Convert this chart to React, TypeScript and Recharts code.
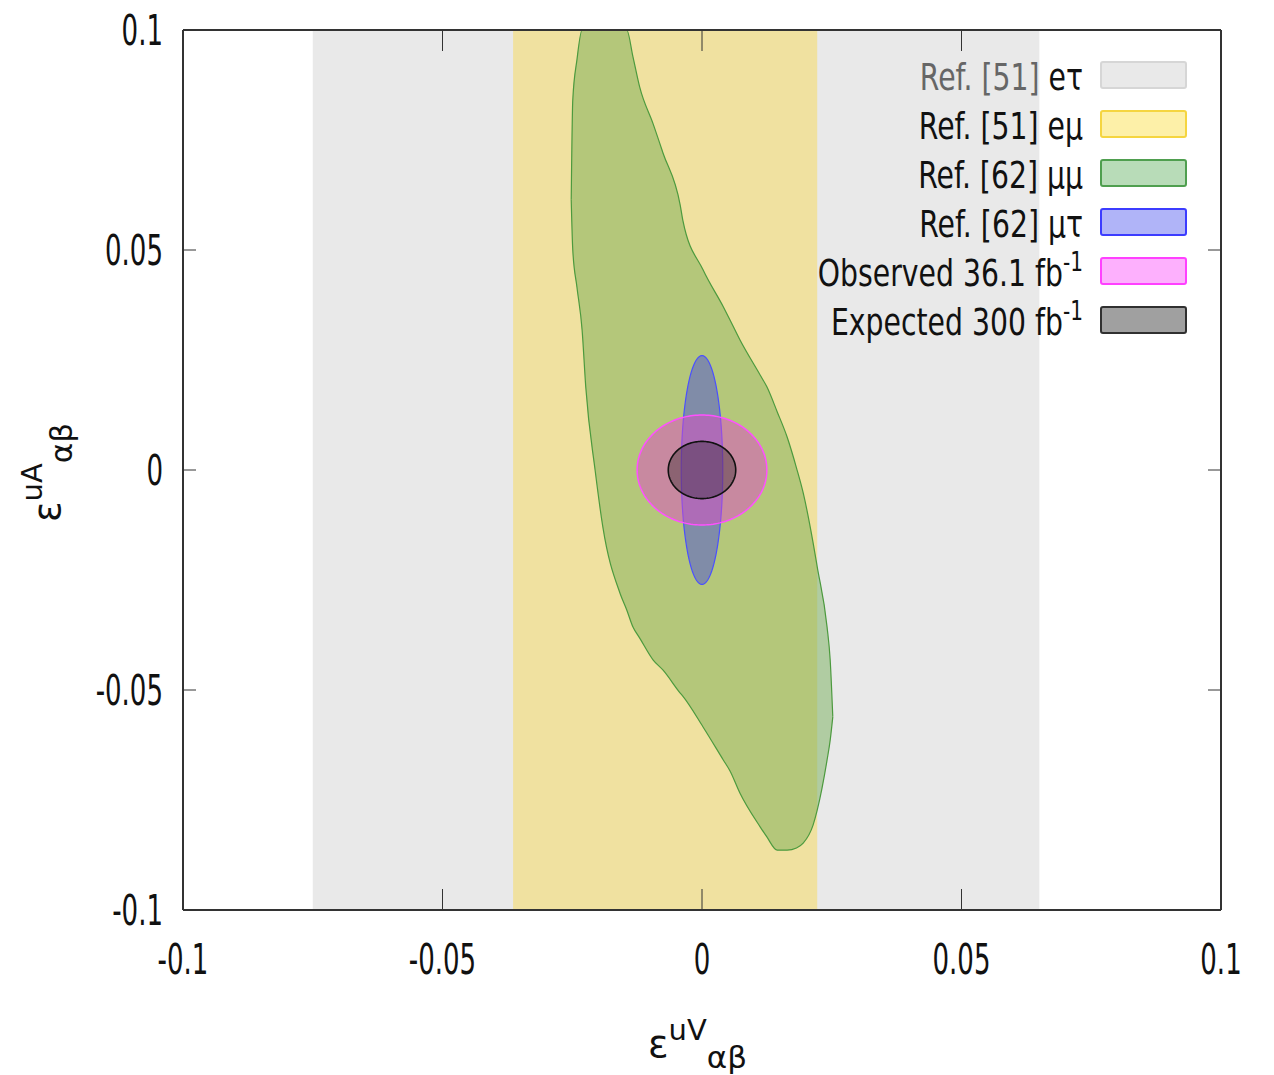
import React from "react";
import { ComposedChart, Area, XAxis, YAxis, ReferenceArea, Legend } from "recharts";

const W = 1258;
const H = 1066;
const PLOT_LEFT = 175;
const PLOT_TOP = 22;
const PLOT_RIGHT = 1213;
const PLOT_BOTTOM = 902;
const FONT = "'DejaVu Sans', Verdana, sans-serif";

// axes
const xTicks = [-0.1, -0.05, 0, 0.05, 0.1];
const yTicks = [-0.1, -0.05, 0, 0.05, 0.1];

// vertical bands (x ranges)
const etBand = [-0.075, 0.065];
const emuBand = [-0.0364, 0.0222];

// mu-mu allowed region, read as lower/upper edge at each x
const mumuX = [-0.0252, -0.0249, -0.0241, -0.0231, -0.0224, -0.0206, -0.0191, -0.0158, -0.0145, -0.0133, -0.012, -0.0094, -0.0075, -0.0042, -0.0037, 0.0002, 0.0041, 0.0054, 0.0073, 0.0112, 0.0125, 0.0145, 0.0164, 0.0182, 0.0195, 0.0214, 0.0222, 0.0241, 0.0247, 0.0252];
const mumuLow = [0.0614, 0.05, 0.0416, 0.0318, 0.0189, 0.0, -0.013, -0.028, -0.0318, -0.0357, -0.0382, -0.0432, -0.0455, -0.0507, -0.0514, -0.0584, -0.0659, -0.0684, -0.0734, -0.0811, -0.0834, -0.0864, -0.0864, -0.0859, -0.0848, -0.0807, -0.0773, -0.0659, -0.0614, -0.0561];
const mumuHigh = [0.0614, 0.0841, 0.0932, 0.1, 0.1, 0.1, 0.1, 0.1, 0.1, 0.0939, 0.087, 0.0786, 0.072, 0.0602, 0.0568, 0.0455, 0.0371, 0.0341, 0.0296, 0.0216, 0.0189, 0.0132, 0.0075, 0.0005, -0.0052, -0.0165, -0.022, -0.0357, -0.0432, -0.0561];

// ellipses: [centre x, centre y, half width, half height]
const muTau = [0, 0, 0.004, 0.026];
const observed = [0, 0, 0.0125, 0.0125];
const expected = [0, 0, 0.0065, 0.0065];

// legend
const legendNames = ["Ref. [51] eτ", "Ref. [51] eμ", "Ref. [62] μμ", "Ref. [62] μτ", "Observed 36.1 fb", "Expected 300 fb"];
const legendSup = ["", "", "", "", "-1", "-1"];
const legendFill = ["#e9e9e9", "#fdf0a8", "#b8dcb8", "#b0b4f8", "#fdb0fd", "#a0a0a0"];
const legendStroke = ["#d6d6d6", "#f5d540", "#4f9f4f", "#3c3cff", "#ff40ff", "#303030"];

const mumuRows = mumuX.map((x, i) => ({ x, range: [mumuLow[i], mumuHigh[i]] }));

function ellipseRows(e: number[]) {
  const [cx, cy, rx, ry] = e;
  const n = 90;
  const rows = [];
  for (let i = 0; i <= n; i++) {
    const t = Math.PI - (Math.PI * i) / n;
    const h = ry * Math.sin(t);
    rows.push({ x: cx + rx * Math.cos(t), range: [cy - h, cy + h] });
  }
  return rows;
}

const XTick = (p: any) => (
  <text transform={`translate(${p.x},${PLOT_BOTTOM + 64}) scale(0.62,1)`} textAnchor="middle" fontSize={42} fontFamily={FONT} fill="#111">
    {String(p.payload.value)}
  </text>
);

const YTick = (p: any) => (
  <text transform={`translate(${PLOT_LEFT - 20},${p.y + 15}) scale(0.62,1)`} textAnchor="end" fontSize={42} fontFamily={FONT} fill="#111">
    {String(p.payload.value)}
  </text>
);

const Blank = () => <g />;

const LegendBox = () => (
  <svg width={W} height={360} style={{ display: "block" }}>
    {legendNames.map((name, i) => {
      const cut = name.lastIndexOf(" ");
      const y0 = 54 + 49 * i;
      return (
        <g key={name}>
          <text transform={`translate(1075,${y0 + 27.5}) scale(0.745,1)`} textAnchor="end" fontSize={38} fontFamily={FONT} fill="#111">
            <tspan fill={i === 0 ? "#666" : "#111"}>{name.slice(0, cut + 1)}</tspan>
            <tspan>{name.slice(cut + 1)}</tspan>
            {legendSup[i] && <tspan fontSize={27} dy={-15}>{legendSup[i]}</tspan>}
          </text>
          <rect x={1093} y={y0} width={85} height={26} rx={2} fill={legendFill[i]} stroke={legendStroke[i]} strokeWidth={2} />
        </g>
      );
    })}
  </svg>
);

const axisLine = { stroke: "#333", strokeWidth: 2 };
const tickLine = { stroke: "#333", strokeWidth: 1 };

export default function App() {
  return (
    <div style={{ position: "relative", width: W, height: H, background: "#fff" }}>
      <ComposedChart width={W} height={H} margin={{ top: PLOT_TOP, right: W - PLOT_RIGHT, bottom: H - PLOT_BOTTOM, left: PLOT_LEFT }}>
        <ReferenceArea xAxisId="x" yAxisId="y" x1={etBand[0]} x2={etBand[1]} fill="#e9e9e9" fillOpacity={1} stroke="none" zIndex={-50} />
        <ReferenceArea xAxisId="x" yAxisId="y" x1={emuBand[0]} x2={emuBand[1]} fill="#f0e1a0" fillOpacity={1} stroke="none" zIndex={-40} />
        <Area xAxisId="x" yAxisId="y" data={mumuRows} dataKey="range" type="monotone" fill="rgb(107,169,75)" fillOpacity={0.45} stroke="#4c9a3e" strokeWidth={1.2} dot={false} activeDot={false} isAnimationActive={false} legendType="none" />
        <Area xAxisId="x" yAxisId="y" data={ellipseRows(muTau)} dataKey="range" type="linear" fill="rgb(70,75,220)" fillOpacity={0.47} stroke="#4a50ff" strokeWidth={1.2} dot={false} activeDot={false} isAnimationActive={false} legendType="none" />
        <Area xAxisId="x" yAxisId="y" data={ellipseRows(observed)} dataKey="range" type="linear" fill="rgb(220,76,198)" fillOpacity={0.5} stroke="#ff50ff" strokeWidth={1.5} dot={false} activeDot={false} isAnimationActive={false} legendType="none" />
        <Area xAxisId="x" yAxisId="y" data={ellipseRows(expected)} dataKey="range" type="linear" fill="rgb(30,30,30)" fillOpacity={0.35} stroke="#111" strokeWidth={1.6} dot={false} activeDot={false} isAnimationActive={false} legendType="none" />
        <XAxis xAxisId="x" type="number" dataKey="x" domain={[-0.1, 0.1]} ticks={xTicks} interval={0} allowDataOverflow orientation="bottom" mirror tickSize={21} tickMargin={0} axisLine={axisLine} tickLine={tickLine} tick={<XTick />} />
        <XAxis xAxisId="top" type="number" dataKey="x" domain={[-0.1, 0.1]} ticks={xTicks} interval={0} allowDataOverflow orientation="top" mirror tickSize={21} tickMargin={0} axisLine={axisLine} tickLine={tickLine} tick={<Blank />} />
        <YAxis yAxisId="y" type="number" domain={[-0.1, 0.1]} ticks={yTicks} interval={0} allowDataOverflow orientation="left" mirror tickSize={13} tickMargin={0} axisLine={axisLine} tickLine={tickLine} tick={<YTick />} />
        <YAxis yAxisId="right" type="number" domain={[-0.1, 0.1]} ticks={yTicks} interval={0} allowDataOverflow orientation="right" mirror tickSize={13} tickMargin={0} axisLine={axisLine} tickLine={tickLine} tick={<Blank />} />
        <Legend layout="vertical" align="center" verticalAlign="middle" wrapperStyle={{ left: 0, top: 0, width: W, height: 360, pointerEvents: "none" }} content={<LegendBox />} />
      </ComposedChart>
      <svg width={W} height={H} style={{ position: "absolute", left: 0, top: 0, pointerEvents: "none" }}>
        <text x={640} y={1049} fontFamily={FONT} fill="#111">
          <tspan fontSize={38}>ε</tspan>
          <tspan fontSize={29} dy={-17}>uV</tspan>
          <tspan fontSize={31} dy={28}>αβ</tspan>
        </text>
        <text transform="translate(52,514) rotate(-90)" fontFamily={FONT} fill="#111">
          <tspan fontSize={38}>ε</tspan>
          <tspan fontSize={29} dy={-18}>uA</tspan>
          <tspan fontSize={31} dy={30}>αβ</tspan>
        </text>
      </svg>
    </div>
  );
}
